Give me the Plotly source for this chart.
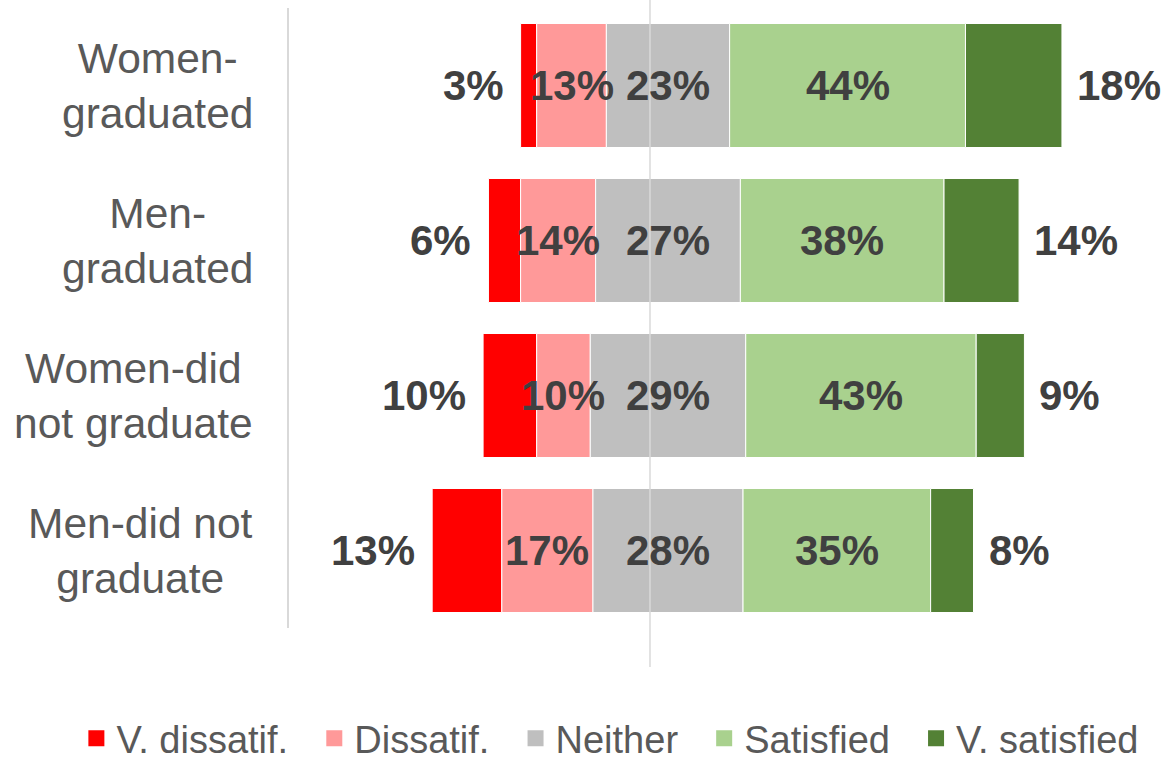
import plotly.graph_objects as go

# Survey groups (top to bottom) and their wrapped axis labels
categories = ["Women-graduated", "Men-graduated", "Women-did not graduate", "Men-did not graduate"]
category_labels = ["Women-<br>graduated", "Men-<br>graduated", "Women-did<br>not graduate", "Men-did not<br>graduate"]

# Response shares in percent
series_names = ["V. dissatif.", "Dissatif.", "Neither", "Satisfied", "V. satisfied"]
v_dissatisfied = [3, 6, 10, 13]
dissatisfied = [13, 14, 10, 17]
neither = [23, 27, 29, 28]
satisfied = [44, 38, 43, 35]
v_satisfied = [18, 14, 9, 8]

colors = ["#FF0000", "#FF9999", "#BFBFBF", "#A9D18E", "#538135"]

# Where the middle of each "Neither" segment sits on the x axis
NEUTRAL_CENTER = 3.36

series = [v_dissatisfied, dissatisfied, neither, satisfied, v_satisfied]

# Diverging layout: each row starts so that "Neither" is centred on NEUTRAL_CENTER
starts = [NEUTRAL_CENTER - (a + b + c / 2) for a, b, c in zip(v_dissatisfied, dissatisfied, neither)]
bases = []
running = list(starts)
for vals in series:
    bases.append(list(running))
    running = [r + v for r, v in zip(running, vals)]
ends = running

TEXT_FONT = "Arial, Liberation Sans, sans-serif"
LABEL_FONT = dict(family=TEXT_FONT, size=42, color="#404040", weight="bold")

fig = go.Figure()

for i, (name, vals, color) in enumerate(zip(series_names, series, colors)):
    fig.add_trace(go.Bar(
        y=categories,
        x=vals,
        base=bases[i],
        orientation="h",
        name=name,
        marker=dict(color=color, line=dict(color="white", width=1)),
        showlegend=False,
        hoverinfo="x+y+name",
    ))

# Legend entries with larger square swatches (trailing no-break spaces widen the gaps)
PAD = "\u00a0\u00a0"
for name, color in zip(series_names, colors):
    fig.add_trace(go.Scatter(
        x=[None], y=[None], mode="markers", name=name + PAD,
        marker=dict(symbol="square", size=16, color=color),
        showlegend=True,
    ))

annotations = []
# Value labels centred on the middle three segments (drawn above all bars)
for i in (1, 2, 3):
    for cat, v, b in zip(categories, series[i], bases[i]):
        annotations.append(dict(x=b + v / 2, y=cat, xref="x", yref="y", text=f"{v}%",
                                showarrow=False, xanchor="center", font=LABEL_FONT))
# Outer labels: very dissatisfied on the left, very satisfied on the right
for cat, v, x0 in zip(categories, v_dissatisfied, starts):
    annotations.append(dict(x=x0, y=cat, xref="x", yref="y", text=f"{v}%",
                            showarrow=False, xanchor="right", xshift=-15,
                            font=LABEL_FONT))
for cat, v, x1 in zip(categories, v_satisfied, ends):
    annotations.append(dict(x=x1, y=cat, xref="x", yref="y", text=f"{v}%",
                            showarrow=False, xanchor="left", xshift=13,
                            font=LABEL_FONT))
# Category labels, centred within their block
for cat, lab in zip(categories, category_labels):
    annotations.append(dict(x=-0.039, y=cat, xref="paper", yref="y", text=lab,
                            showarrow=False, xanchor="right", align="center",
                            font=dict(family=TEXT_FONT, size=42.5, color="#595959")))

fig.update_layout(
    width=1164, height=760,
    margin=dict(l=289, r=0, t=8, b=132, autoexpand=False),
    paper_bgcolor="white", plot_bgcolor="white",
    barmode="overlay", bargap=0.2,
    showlegend=True,
    legend=dict(orientation="h", x=-0.243, xanchor="left", y=-0.229, yanchor="bottom",
                font=dict(family=TEXT_FONT, size=38, color="#595959"),
                itemclick=False, itemdoubleclick=False),
    xaxis=dict(range=[-67.35, 95.9], showgrid=False, zeroline=False, showticklabels=False,
               ticks="", fixedrange=True),
    yaxis=dict(type="category", categoryorder="array", categoryarray=categories,
               autorange="reversed", showgrid=False, zeroline=False, showticklabels=False,
               ticks="", showline=True, linecolor="#D9D9D9", linewidth=1.5, fixedrange=True),
    annotations=annotations,
    shapes=[dict(type="line", xref="x", yref="paper", x0=0, x1=0, y0=-0.063, y1=1.013,
                 line=dict(color="#D9D9D9", width=1.5), layer="above")],
)

fig.write_html("out.html")
